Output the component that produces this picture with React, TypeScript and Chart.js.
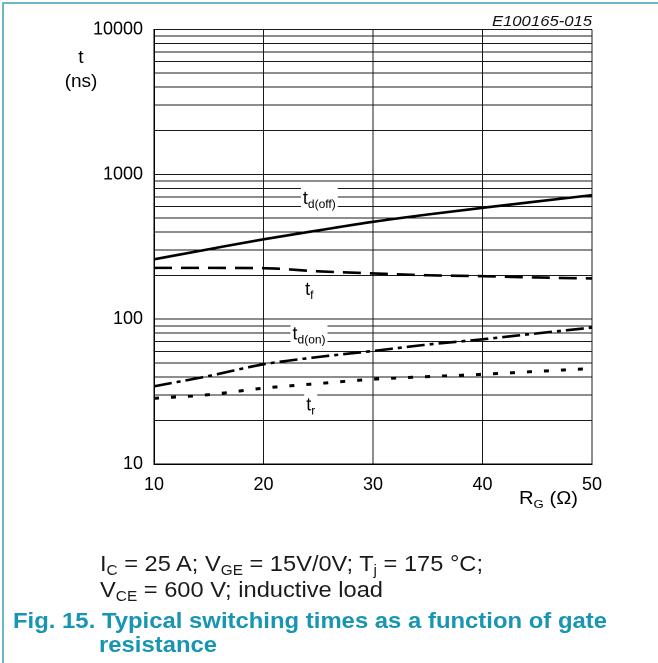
import React, { useEffect, useLayoutEffect, useRef } from "react";
import { Chart, registerables } from "chart.js";

Chart.register(...registerables);

// ---- data ----
const RG = [10, 15, 20, 25, 30, 35, 40, 45, 50];
const TD_OFF = [259, 304, 356, 410, 470, 528, 587, 650, 718];
const T_F = [226, 226, 225, 214, 207, 201, 198, 194, 191];
const TD_ON = [34.4, 40.5, 48.8, 54.8, 60.3, 66.8, 72.6, 79.8, 87.5];
const T_R = [28.4, 30.1, 33.4, 35.9, 38.5, 40.1, 41.6, 43.6, 45.6];

const X_TICKS = [10, 20, 30, 40, 50];
const Y_DECADES = [10, 100, 1000, 10000];
const Y_MANTISSAS = [1, 2, 3, 4, 5, 6, 7, 8, 9];

const LABEL_MAIN = ["t", "t", "t", "t"];
const LABEL_SUB = ["d(off)", "f", "d(on)", "r"];
const LABEL_X = [23.6, 23.8, 22.65, 23.9];
const LABEL_Y = [685, 161, 79.9, 25.8];

const FONT = '"Liberation Sans", Arial, Helvetica, sans-serif';
const TEAL = "#1895b3";

const Y_GRID: number[] = [];
Y_DECADES.forEach((d, i) => {
  if (i === Y_DECADES.length - 1) Y_GRID.push(d);
  else Y_MANTISSAS.forEach((m) => Y_GRID.push(m * d));
});

const labelPlugin = {
  id: "curveLabels",
  afterDatasetsDraw(chart: any) {
    const { ctx, scales } = chart;
    const xs = scales.x;
    const ys = scales.y;
    LABEL_MAIN.forEach((main, i) => {
      const px = xs.getPixelForValue(LABEL_X[i]);
      const py = ys.getPixelForValue(LABEL_Y[i]);
      ctx.save();
      ctx.font = `18px ${FONT}`;
      const w1 = ctx.measureText(main).width;
      ctx.font = `12px ${FONT}`;
      const w2 = ctx.measureText(LABEL_SUB[i]).width;
      ctx.fillStyle = "#fff";
      ctx.fillRect(px - 2, py - 12, w1 + w2 + 4, 24);
      ctx.fillStyle = "#000";
      ctx.textBaseline = "alphabetic";
      ctx.textAlign = "left";
      ctx.font = `18px ${FONT}`;
      ctx.fillText(main, px, py + 6);
      ctx.font = `12px ${FONT}`;
      ctx.fillText(LABEL_SUB[i], px + w1, py + 10);
      ctx.restore();
    });
  },
};

function FitLine(props: {
  left: number;
  baseline: number;
  fontSize: number;
  width: number;
  style?: React.CSSProperties;
  children: React.ReactNode;
}) {
  const ref = useRef<HTMLSpanElement>(null);
  useLayoutEffect(() => {
    const el = ref.current;
    if (!el) return;
    el.style.transform = "none";
    const w = el.getBoundingClientRect().width;
    if (w > 0) el.style.transform = `scaleX(${props.width / w})`;
  }, [props.width]);
  return (
    <span
      ref={ref}
      style={{
        position: "absolute",
        left: props.left,
        top: props.baseline - 0.8465 * props.fontSize,
        fontSize: props.fontSize,
        lineHeight: `${props.fontSize}px`,
        fontFamily: FONT,
        whiteSpace: "nowrap",
        display: "inline-block",
        transformOrigin: "0 0",
        ...props.style,
      }}
    >
      {props.children}
    </span>
  );
}

const subStyle: React.CSSProperties = {
  fontSize: "0.65em",
  verticalAlign: "-0.3em",
  lineHeight: 0,
};

export default function App() {
  const canvasRef = useRef<HTMLCanvasElement>(null);

  useEffect(() => {
    const canvas = canvasRef.current;
    if (!canvas) return;
    const lineBase = {
      borderColor: "#000",
      pointRadius: 0,
      fill: false,
      tension: 0.4,
      cubicInterpolationMode: "monotone" as const,
    };
    const chart = new Chart(canvas, {
      type: "line",
      data: {
        datasets: [
          { ...lineBase, label: "td(off)", data: RG.map((x, i) => ({ x, y: TD_OFF[i] })), borderWidth: 2.6 },
          { ...lineBase, label: "tf", data: RG.map((x, i) => ({ x, y: T_F[i] })), borderWidth: 2.6, borderDash: [18, 9] },
          { ...lineBase, label: "td(on)", data: RG.map((x, i) => ({ x, y: TD_ON[i] })), borderWidth: 2.6, borderDash: [18, 5, 4, 5] },
          { ...lineBase, label: "tr", data: RG.map((x, i) => ({ x, y: T_R[i] })), borderWidth: 3, borderDash: [5, 12] },
        ],
      },
      options: {
        animation: false,
        responsive: false,
        devicePixelRatio: 2,
        layout: { padding: { left: 0, top: 29.5, right: 66, bottom: 169 } },
        plugins: { legend: { display: false }, tooltip: { enabled: false } },
        scales: {
          x: {
            type: "linear",
            min: 10,
            max: 50,
            afterBuildTicks: (scale: any) => {
              scale.ticks = X_TICKS.map((v) => ({ value: v }));
            },
            afterFit: (scale: any) => {
              scale.height = 30;
              scale.paddingLeft = 0;
              scale.paddingRight = 0;
            },
            ticks: {
              autoSkip: false,
              maxRotation: 0,
              color: "#000",
              padding: 10,
              font: { family: FONT, size: 18 },
            },
            grid: { color: "#1a1a1a", lineWidth: 1, drawTicks: false },
            border: { display: true, color: "#000", width: 1.5 },
          },
          y: {
            type: "logarithmic",
            min: 10,
            max: 10000,
            afterBuildTicks: (scale: any) => {
              scale.ticks = Y_GRID.map((v) => ({ value: v, major: Y_DECADES.includes(v) }));
            },
            afterFit: (scale: any) => {
              scale.width = 154;
              scale.paddingTop = 0;
              scale.paddingBottom = 0;
            },
            ticks: {
              autoSkip: false,
              color: "#000",
              padding: 11,
              font: { family: FONT, size: 18 },
              callback: (v: any) => (Y_DECADES.includes(Number(v)) ? String(v) : ""),
            },
            grid: { color: "#1a1a1a", lineWidth: 1, drawTicks: false },
            border: { display: true, color: "#000", width: 1.5 },
          },
        },
      },
      plugins: [labelPlugin],
    });
    return () => chart.destroy();
  }, []);

  return (
    <div style={{ position: "absolute", left: 0, top: 0, width: 658, height: 663, background: "#fff", overflow: "hidden" }}>
      <canvas ref={canvasRef} width={658} height={663} style={{ position: "absolute", left: 0, top: 0, width: 658, height: 663 }} />
      <div style={{ position: "absolute", left: 2, top: 2, width: 660, height: 670, borderTop: "2px solid #6bb7c6", borderLeft: "2px solid #6bb7c6" }} />
      <FitLine left={492} baseline={26} fontSize={15} width={100} style={{ fontStyle: "italic", color: "#111" }}>
        E100165-015
      </FitLine>
      <div style={{ position: "absolute", left: 41, width: 80, textAlign: "center", top: 63 - 0.8465 * 19, fontSize: 19, lineHeight: "19px", fontFamily: FONT, color: "#000" }}>t</div>
      <div style={{ position: "absolute", left: 41, width: 80, textAlign: "center", top: 87 - 0.8465 * 19, fontSize: 19, lineHeight: "19px", fontFamily: FONT, color: "#000" }}>(ns)</div>
      <FitLine left={519} baseline={504} fontSize={18} width={59} style={{ color: "#000" }}>
        R<span style={subStyle}>G</span> (Ω)
      </FitLine>
      <FitLine left={100} baseline={572} fontSize={22} width={383} style={{ color: "#1a1a1a" }}>
        I<span style={subStyle}>C</span> = 25 A; V<span style={subStyle}>GE</span> = 15V/0V; T<span style={subStyle}>j</span> = 175 °C;
      </FitLine>
      <FitLine left={100} baseline={598} fontSize={22} width={283} style={{ color: "#1a1a1a" }}>
        V<span style={subStyle}>CE</span> = 600 V; inductive load
      </FitLine>
      <FitLine left={13} baseline={629} fontSize={22} width={594} style={{ color: TEAL, fontWeight: "bold" }}>
        Fig. 15. Typical switching times as a function of gate
      </FitLine>
      <FitLine left={99} baseline={653} fontSize={22} width={118} style={{ color: TEAL, fontWeight: "bold" }}>
        resistance
      </FitLine>
    </div>
  );
}
